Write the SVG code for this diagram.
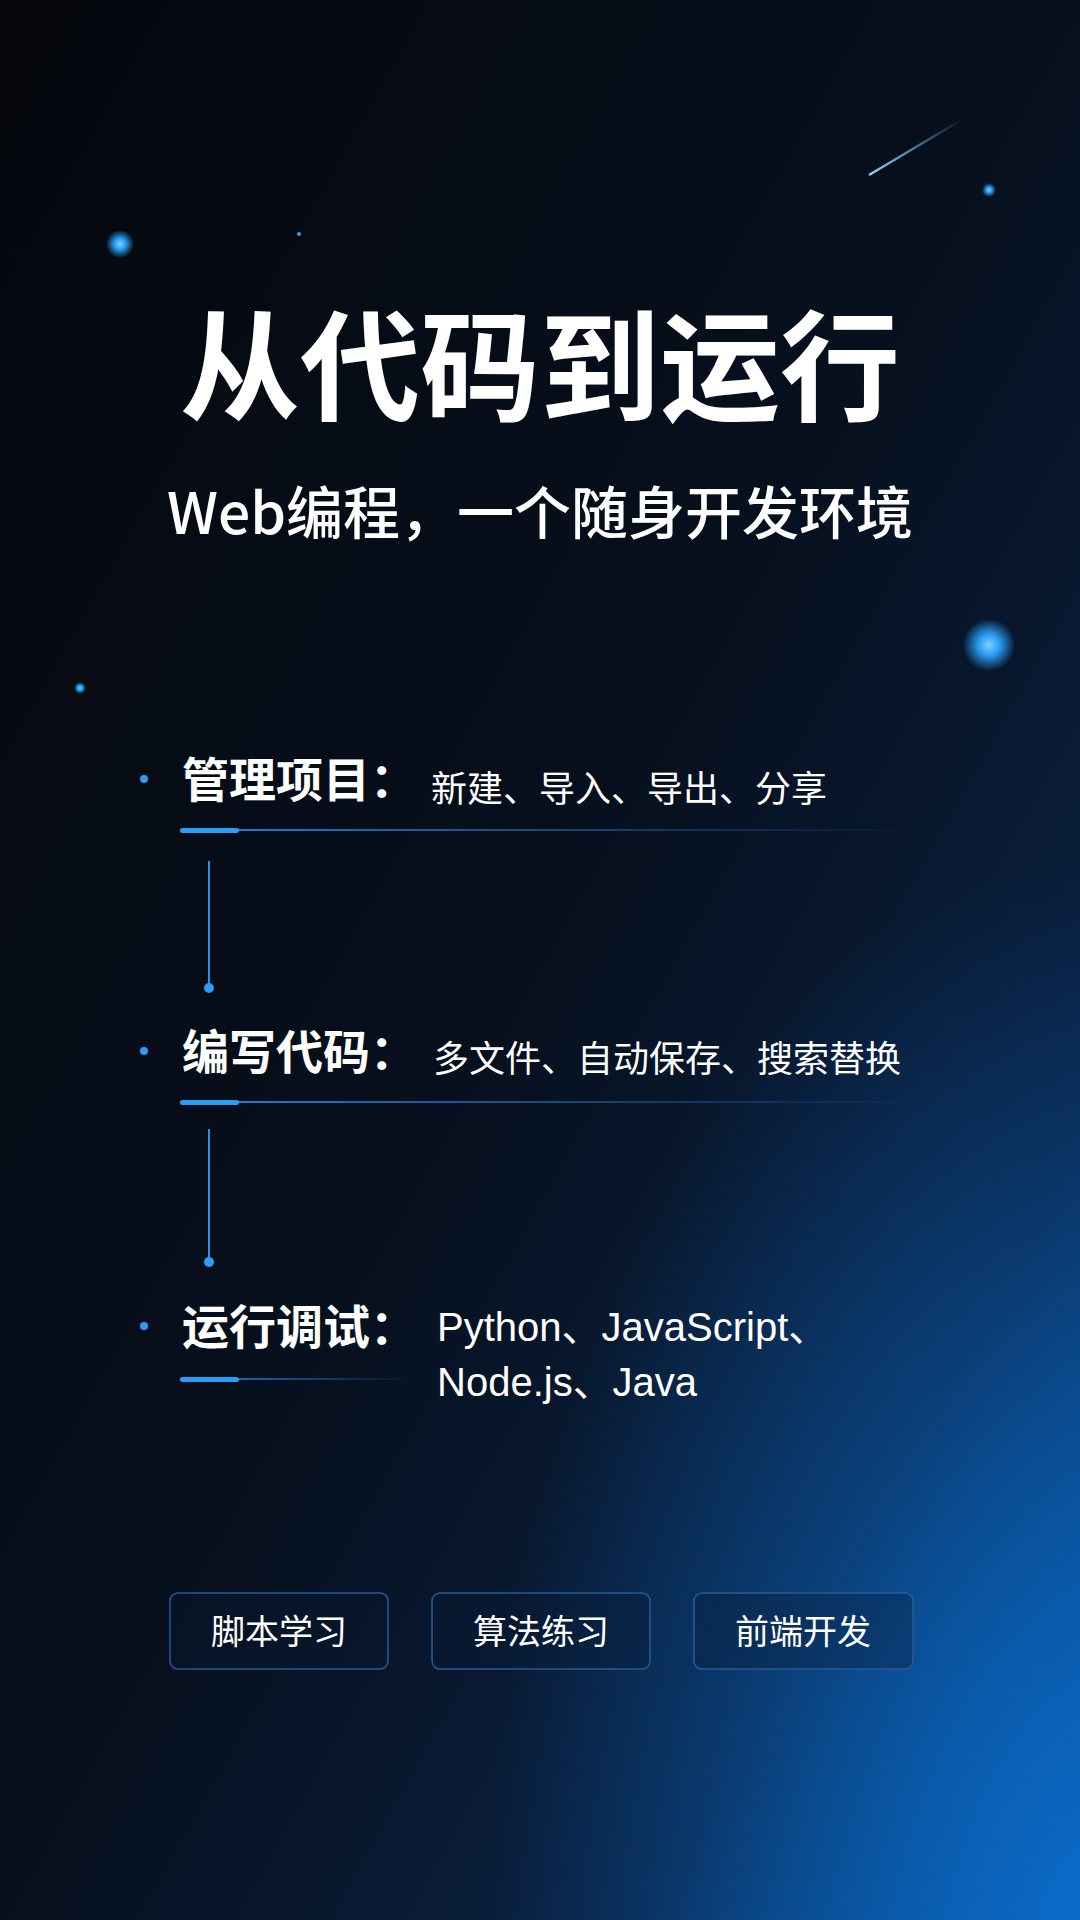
<svg xmlns="http://www.w3.org/2000/svg" width="1080" height="1920" viewBox="0 0 1080 1920">
<defs>
<linearGradient id="bg" x1="0" y1="0" x2="1" y2="1">
<stop offset="0" stop-color="#05070c"/>
<stop offset="0.5" stop-color="#07101e"/>
<stop offset="0.8" stop-color="#0a2142"/>
<stop offset="1" stop-color="#0a4f9a"/>
</linearGradient>
<radialGradient id="glowBR" cx="1" cy="1" r="0.55">
<stop offset="0" stop-color="#0b6fd0" stop-opacity="0.85"/>
<stop offset="1" stop-color="#0b6fd0" stop-opacity="0"/>
</radialGradient>
<radialGradient id="dot" cx="0.5" cy="0.5" r="0.5">
<stop offset="0" stop-color="#7fd0ff"/>
<stop offset="0.4" stop-color="#2a9df4"/>
<stop offset="1" stop-color="#2a9df4" stop-opacity="0"/>
</radialGradient>
<linearGradient id="ul" x1="0" y1="0" x2="1" y2="0">
<stop offset="0" stop-color="#2a8ff0" stop-opacity="0.9"/>
<stop offset="1" stop-color="#2a8ff0" stop-opacity="0"/>
</linearGradient>
<linearGradient id="meteor" x1="0" y1="1" x2="1" y2="0">
<stop offset="0" stop-color="#8fd3ff"/>
<stop offset="1" stop-color="#8fd3ff" stop-opacity="0"/>
</linearGradient>
</defs>
<style>
.t{font-family:"Noto Sans CJK SC","Liberation Sans",sans-serif;fill:#fff}
.h{font-size:47px;font-weight:bold}
.d{font-size:36px}
.l{font-family:"Liberation Sans","Noto Sans CJK SC",sans-serif;font-size:40px;fill:#fff}
.b{font-size:34px;text-anchor:middle}
.btn{fill:#0a1a33;fill-opacity:0.35;stroke:#2a5a95;stroke-width:1.5}
.conn{stroke:#2a8ff0;stroke-width:2}
.cd{fill:#2a9df4}
.bul{fill:#2a9df4}
</style>
<rect width="1080" height="1920" fill="url(#bg)"/>
<rect width="1080" height="1920" fill="url(#glowBR)"/>
<circle cx="120" cy="244" r="14" fill="url(#dot)"/>
<circle cx="989" cy="645" r="26" fill="url(#dot)"/>
<circle cx="989" cy="190" r="7" fill="url(#dot)"/>
<circle cx="80" cy="688" r="6" fill="url(#dot)"/>
<circle cx="299" cy="234" r="2" fill="#2a9df4"/>
<line x1="869" y1="175" x2="963" y2="119" stroke="url(#meteor)" stroke-width="2.5"/>
<g id="title"><text class="t" x="540" y="412" font-size="120" font-weight="bold" text-anchor="middle">从代码到运行</text></g>
<g id="subtitle"><text class="t" x="540" y="534" font-size="57" font-weight="500" text-anchor="middle">Web编程，一个随身开发环境</text></g>
<g id="connectors">
<line class="conn" x1="209" y1="861" x2="209" y2="985"/><circle class="cd" cx="209" cy="988" r="5"/>
<line class="conn" x1="209" y1="1129" x2="209" y2="1259"/><circle class="cd" cx="209" cy="1262" r="5"/>
</g>
<g id="item1">
<circle class="bul" cx="144" cy="779" r="4"/>
<text class="t h" x="182" y="797">管理项目：</text>
<text class="t d" x="431" y="802">新建、导入、导出、分享</text>
<rect x="180" y="829" width="740" height="2" fill="url(#ul)"/>
<rect x="180" y="828" width="59" height="5" rx="2.5" fill="#2a9df4"/>
</g>
<g id="item2">
<circle class="bul" cx="144" cy="1051" r="4"/>
<text class="t h" x="182" y="1069">编写代码：</text>
<text class="t d" x="433" y="1072">多文件、自动保存、搜索替换</text>
<rect x="180" y="1101" width="740" height="2" fill="url(#ul)"/>
<rect x="180" y="1100" width="59" height="5" rx="2.5" fill="#2a9df4"/>
</g>
<g id="item3">
<circle class="bul" cx="144" cy="1326" r="4"/>
<text class="t h" x="182" y="1344">运行调试：</text>
<text class="l" x="437" y="1341">Python、JavaScript、</text>
<text class="l" x="437" y="1396">Node.js、Java</text>
<rect x="180" y="1378" width="230" height="2" fill="url(#ul)"/>
<rect x="180" y="1377" width="59" height="5" rx="2.5" fill="#2a9df4"/>
</g>
<g id="btn1"><rect class="btn" x="170" y="1593" width="218" height="76" rx="8"/><text class="t b" x="279" y="1644">脚本学习</text></g>
<g id="btn2"><rect class="btn" x="432" y="1593" width="218" height="76" rx="8"/><text class="t b" x="541" y="1644">算法练习</text></g>
<g id="btn3"><rect class="btn" x="694" y="1593" width="219" height="76" rx="8"/><text class="t b" x="803" y="1644">前端开发</text></g>
</svg>
